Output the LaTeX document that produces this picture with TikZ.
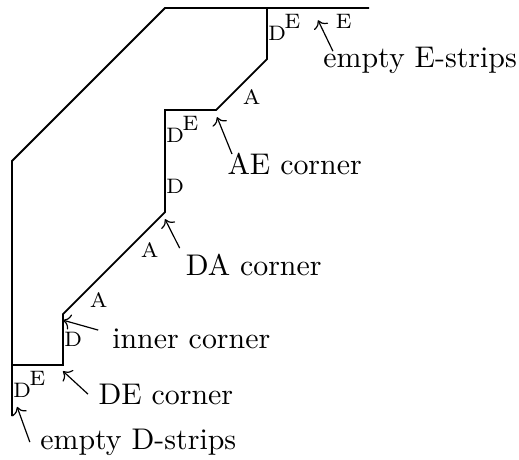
\documentclass[tikz,border=0pt]{standalone}
\usepackage{tikz}
\usetikzlibrary{arrows.meta, positioning}

\begin{document}
\begin{tikzpicture}[x=0.6cm, y=0.6cm,
    edge/.style={semithick},
    lbl/.style={font=\scriptsize, inner sep=0pt},
    note/.style={anchor=west},
    pointer/.style={->}
  ]
  \useasboundingbox (-0.235,-1.843) rectangle (9.94,7.157);

  % outer and inner boundary
  \draw[edge] (0,-1) -- (0,4) -- (3,7) -- (7,7);
  \draw[edge] (0,0) -- (1,0) -- (1,1) -- (3,3) -- (3,5) -- (4,5) -- (5,6) -- (5,7);

  % where the arrows point
  \coordinate (dstrip) at (0.1,-0.82);
  \coordinate (de) at (1.0,-0.12);
  \coordinate (inner) at (1.0,0.88);
  \coordinate (da) at (3.0,2.86);
  \coordinate (ae) at (4.02,4.86);
  \coordinate (estrip) at (6.0,6.76);

  % strip labels
  \node[lbl] (d1) at (0.2,-0.5) {D};
  \node[lbl] (d2) at (1.2,0.5) {D};
  \node[lbl] (d3) at (3.2,3.5) {D};
  \node[lbl] (d4) at (3.2,4.5) {D};
  \node[lbl] (d5) at (5.2,6.5) {D};
  \node[lbl] (e1) at (0.5,-0.26) {E};
  \node[lbl] (e2) at (3.5,4.74) {E};
  \node[lbl] (e3) at (5.5,6.74) {E};
  \node[lbl] (e4) at (6.5,6.74) {E};
  \node[lbl] (a1) at (1.7,1.27) {A};
  \node[lbl] (a2) at (2.7,2.25) {A};
  \node[lbl] (a3) at (4.7,5.25) {A};

  % texts
  \node[note] (emptyD) at (0.35,-1.51) {empty D-strips};
  \node[note] (deL) at (1.49,-0.57) {DE corner};
  \node[note] (innerL) at (1.76,0.51) {inner corner};
  \node[note] (daL) at (3.2,1.96) {DA corner};
  \node[note] (aeL) at (4.02,3.94) {AE corner};
  \node[note] (emptyE) at (5.9,5.98) {empty E-strips};

  \draw[pointer] (emptyD.west) -- (dstrip);
  \draw[pointer] (deL.west) -- (de);
  \draw[pointer] ([shift={(-1.2pt,3pt)}]innerL.west) -- (inner);
  \draw[pointer] ([shift={(1.5pt,-1.5pt)}]daL.north west) -- (da);
  \draw[pointer] ([shift={(5pt,-3.8pt)}]aeL.north west) -- (ae);
  \draw[pointer] ([shift={(6.7pt,-5pt)}]emptyE.north west) -- (estrip);
\end{tikzpicture}
\end{document}
